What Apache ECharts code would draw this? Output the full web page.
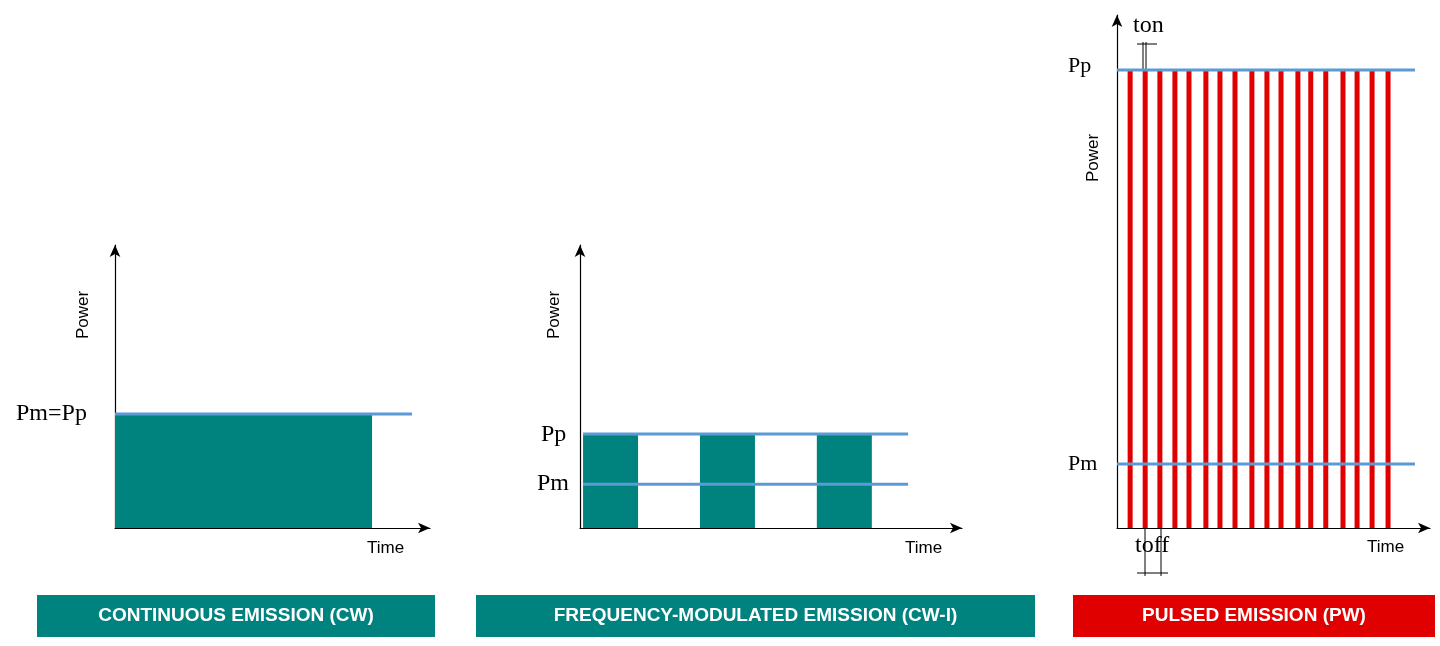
<!DOCTYPE html>
<html>
<head>
<meta charset="utf-8">
<script src="https://cdn.jsdelivr.net/npm/echarts@6/dist/echarts.min.js"></script>
<style>html,body{margin:0;background:#fff}#main{width:1440px;height:646px}</style>
</head>
<body>
<div id="main"></div>
<script>
// panel data (x and y in 0..100 axis units)
var cwBlock = [[0, 81.6, 40.3]];
var cwLine = [[0, 40.3], [94.3, 40.3]];
var cwiBlocks = [[0.8, 15.2, 33.2], [31.4, 45.8, 33.2], [62, 76.4, 33.2]];
var cwiPp = [[0.8, 33.2], [85.9, 33.2]];
var cwiPm = [[0.8, 15.5], [85.9, 15.5]];
var pwPulses = [4.2, 9.0, 13.7, 18.5, 23.0, 28.4, 32.9, 37.7, 43.1, 47.9, 52.4, 57.8, 61.9, 66.7, 72.2, 76.7, 81.5, 86.6];
var pwPp = [[0, 89.3], [95.2, 89.3]];
var pwPm = [[0, 12.5], [95.2, 12.5]];
var titles = ['CONTINUOUS EMISSION (CW)', 'FREQUENCY-MODULATED EMISSION (CW-I)', 'PULSED EMISSION (PW)'];

var teal = '#00827f', red = '#e00000', blue = '#5b9bd5';
var myChart = echarts.init(document.getElementById('main'));

function axisX(i) {
    return { gridIndex: i, type: 'value', min: 0, max: 100, splitLine: { show: false },
        axisTick: { show: false }, axisLabel: { show: false },
        axisLine: { lineStyle: { color: '#000', width: 1.2 }, symbol: ['none', 'arrow'], symbolSize: [8, 12] } };
}
function axisY(i) {
    var a = axisX(i); return a;
}
function rectSeries(i, data, color) {
    return { type: 'custom', xAxisIndex: i, yAxisIndex: i, data: data,
        renderItem: function(params, api) {
            var p0 = api.coord([api.value(0), 0]);
            var p1 = api.coord([api.value(1), api.value(2)]);
            return { type: 'rect', shape: { x: p0[0], y: p1[1], width: p1[0] - p0[0], height: p0[1] - p1[1] },
                style: { fill: color } };
        } };
}
function lineSeries(i, data) {
    return { type: 'line', xAxisIndex: i, yAxisIndex: i, data: data, symbol: 'none',
        lineStyle: { color: blue, width: 3 }, z: 5 };
}
var serif = 'Liberation Serif';
function txt(x, y, s, size, font, extra) {
    var o = { type: 'text', left: x, top: y, style: { text: s, font: (size || 22) + 'px "' + (font || serif) + '"', fill: '#000' } };
    if (extra) for (var k in extra) o[k] = extra[k];
    return o;
}
function ln(x1, y1, x2, y2) {
    return { type: 'line', shape: { x1: x1, y1: y1, x2: x2, y2: y2 }, style: { stroke: '#000', lineWidth: 1 } };
}
function box(x, w, color, s) {
    return { type: 'group', left: x, top: 595, children: [
        { type: 'rect', shape: { x: 0, y: 0, width: w, height: 42 }, style: { fill: color } },
        { type: 'text', x: w / 2, y: 21, style: { text: s, fill: '#fff', font: 'bold 19px "Liberation Sans"', align: 'center', verticalAlign: 'middle' } }
    ] };
}
function power(x, y) {
    return { type: 'text', x: x, y: y, rotation: Math.PI / 2,
        style: { text: 'Power', font: '17px "Liberation Sans"', fill: '#000', align: 'center', verticalAlign: 'middle' } };
}

var option = {
    animation: false,
    grid: [
        { left: 115, top: 245, width: 315, height: 283 },
        { left: 580, top: 245, width: 382, height: 283 },
        { left: 1117, top: 15, width: 313, height: 513 }
    ],
    xAxis: [axisX(0), axisX(1), axisX(2)],
    yAxis: [axisY(0), axisY(1), axisY(2)],
    series: [
        rectSeries(0, cwBlock, teal),
        lineSeries(0, cwLine),
        rectSeries(1, cwiBlocks, teal),
        lineSeries(1, cwiPp),
        lineSeries(1, cwiPm),
        { type: 'custom', xAxisIndex: 2, yAxisIndex: 2, data: pwPulses.map(function(v) { return [v, 89.3]; }),
            renderItem: function(params, api) {
                var p0 = api.coord([api.value(0), 0]);
                var p1 = api.coord([api.value(0), api.value(1)]);
                return { type: 'rect', shape: { x: p0[0] - 2.5, y: p1[1], width: 5, height: p0[1] - p1[1] }, style: { fill: red } };
            } },
        lineSeries(2, pwPp),
        lineSeries(2, pwPm)
    ],
    graphic: [
        power(83, 315), power(554, 315), power(1093, 158),
        txt(16, 402, 'Pm=Pp', 24),
        txt(541, 423, 'Pp', 24), txt(537, 472, 'Pm', 24),
        txt(1068, 55, 'Pp', 22), txt(1068, 453, 'Pm', 22),
        txt(367, 540, 'Time', 17, 'Liberation Sans'),
        txt(905, 540, 'Time', 17, 'Liberation Sans'),
        txt(1367, 539, 'Time', 17, 'Liberation Sans'),
        txt(1133, 14, 'ton', 24), txt(1135, 534, 'toff', 24),
        ln(1143, 42, 1143, 70), ln(1146, 42, 1146, 70), ln(1137, 44, 1157, 44),
        ln(1145, 528, 1145, 576), ln(1161, 528, 1161, 576), ln(1137, 573, 1168, 573),
        box(37, 398, teal, titles[0]),
        box(476, 559, teal, titles[1]),
        box(1073, 362, red, titles[2])
    ]
};
myChart.setOption(option);
</script>
</body>
</html>
